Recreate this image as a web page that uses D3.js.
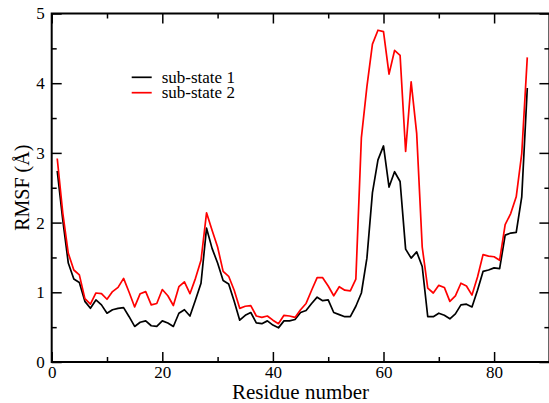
<!DOCTYPE html>
<html>
<head>
<meta charset="utf-8">
<script src="https://cdn.jsdelivr.net/npm/d3@7"></script>
<style>
  body { margin: 0; background: #fff; }
  svg text { font-family: "Liberation Serif", "DejaVu Serif", serif; }
</style>
</head>
<body>
<div id="chart"></div>
<script>
// RMSF per residue
const residues = d3.range(1, 87);
const subState1 = [
  2.74, 2.04, 1.42, 1.19, 1.14, 0.87, 0.77, 0.89, 0.82, 0.70,
  0.75, 0.77, 0.78, 0.65, 0.51, 0.57, 0.59, 0.52, 0.51, 0.59,
  0.56, 0.51, 0.70, 0.75, 0.66, 0.89, 1.13, 1.92, 1.63, 1.42,
  1.17, 1.12, 0.87, 0.60, 0.67, 0.71, 0.56, 0.55, 0.59, 0.53,
  0.49, 0.59, 0.59, 0.61, 0.71, 0.74, 0.84, 0.93, 0.88, 0.89,
  0.71, 0.68, 0.65, 0.65, 0.80, 0.99, 1.49, 2.43, 2.90, 3.10,
  2.51, 2.73, 2.59, 1.62, 1.49, 1.58, 1.37, 0.65, 0.65, 0.70,
  0.67, 0.62, 0.69, 0.82, 0.83, 0.79, 1.03, 1.30, 1.32, 1.35,
  1.34, 1.82, 1.85, 1.86, 2.37, 3.93
];
const subState2 = [
  2.92, 2.14, 1.56, 1.32, 1.25, 0.91, 0.83, 0.99, 0.98, 0.90,
  1.01, 1.07, 1.20, 1.00, 0.79, 0.98, 1.01, 0.82, 0.84, 1.04,
  0.95, 0.81, 1.08, 1.15, 0.98, 1.20, 1.46, 2.14, 1.89, 1.65,
  1.30, 1.23, 1.03, 0.77, 0.80, 0.81, 0.66, 0.64, 0.66, 0.60,
  0.55, 0.67, 0.66, 0.64, 0.75, 0.84, 1.03, 1.21, 1.21, 1.09,
  0.95, 1.08, 1.03, 1.02, 1.19, 3.22, 3.95, 4.56, 4.76, 4.74,
  4.13, 4.47, 4.40, 3.02, 4.02, 3.28, 1.65, 1.06, 0.99, 1.10,
  1.07, 0.87, 0.95, 1.13, 1.09, 0.96, 1.22, 1.54, 1.52, 1.51,
  1.46, 1.97, 2.13, 2.37, 2.99, 4.37
];
const seriesNames = ["sub-state 1", "sub-state 2"];
const seriesColors = ["#000000", "#ff0000"];
const xMajorTicks = [0, 20, 40, 60, 80];
const xMinorTicks = [10, 30, 50, 70, 90];
const yMajorTicks = [0, 1, 2, 3, 4, 5];
const yMinorTicks = [0.5, 1.5, 2.5, 3.5, 4.5];

const width = 549;
const height = 403;
const margin = { top: 13.5, right: 0, bottom: 41, left: 51.7 };

const svg = d3.select("#chart")
    .append("svg")
    .attr("width", width)
    .attr("height", height);

const x = d3.scaleLinear()
    .domain([0, 90])
    .range([margin.left, 549.4]);

const y = d3.scaleLinear()
    .domain([0, 5])
    .range([height - margin.bottom, margin.top]);

const line = d3.line()
    .x((d, i) => x(residues[i]))
    .y(d => y(d));

// data lines
[subState1, subState2].forEach((vals, k) => {
    svg.append("path")
        .datum(vals)
        .attr("fill", "none")
        .attr("stroke", seriesColors[k])
        .attr("stroke-width", 1.7)
        .attr("stroke-linejoin", "round")
        .attr("d", line);
});

// axes, ticks pointing inward
function styleAxis(g) {
    g.select(".domain").remove();
    g.selectAll(".tick line").attr("stroke", "#000").attr("stroke-width", 1.5);
    g.selectAll(".tick text")
        .attr("fill", "#000")
        .style("font-size", "17px")
        .style("font-family", "'Liberation Serif', serif");
}

const yBottom = y(0);
const xRight = x(90);

svg.append("g")
    .attr("transform", `translate(0,${yBottom})`)
    .call(d3.axisBottom(x).tickValues(xMajorTicks).tickSize(-10).tickPadding(4).tickFormat(d3.format("d")))
    .call(styleAxis);
svg.append("g")
    .attr("transform", `translate(0,${yBottom})`)
    .call(d3.axisBottom(x).tickValues(xMinorTicks).tickSize(-5).tickFormat(""))
    .call(styleAxis);
svg.append("g")
    .attr("transform", `translate(0,${margin.top})`)
    .call(d3.axisTop(x).tickValues(xMajorTicks).tickSize(-10).tickFormat(""))
    .call(styleAxis);
svg.append("g")
    .attr("transform", `translate(0,${margin.top})`)
    .call(d3.axisTop(x).tickValues(xMinorTicks).tickSize(-5).tickFormat(""))
    .call(styleAxis);

svg.append("g")
    .attr("transform", `translate(${margin.left},0)`)
    .call(d3.axisLeft(y).tickValues(yMajorTicks).tickSize(-10).tickPadding(7).tickFormat(d3.format("d")))
    .call(styleAxis);
svg.append("g")
    .attr("transform", `translate(${margin.left},0)`)
    .call(d3.axisLeft(y).tickValues(yMinorTicks).tickSize(-5).tickFormat(""))
    .call(styleAxis);
svg.append("g")
    .attr("transform", `translate(${xRight},0)`)
    .call(d3.axisRight(y).tickValues(yMajorTicks).tickSize(-10).tickFormat(""))
    .call(styleAxis);
svg.append("g")
    .attr("transform", `translate(${xRight},0)`)
    .call(d3.axisRight(y).tickValues(yMinorTicks).tickSize(-5).tickFormat(""))
    .call(styleAxis);

// frame
svg.append("rect")
    .attr("x", margin.left)
    .attr("y", margin.top)
    .attr("width", xRight - margin.left)
    .attr("height", yBottom - margin.top)
    .attr("fill", "none")
    .attr("stroke", "#000")
    .attr("stroke-width", 2);

// axis titles
svg.append("text")
    .attr("x", (margin.left + xRight) / 2)
    .attr("y", 399)
    .attr("text-anchor", "middle")
    .style("font-size", "21px")
    .text("Residue number");

svg.append("text")
    .attr("transform", `translate(29,${(margin.top + yBottom) / 2}) rotate(-90)`)
    .attr("text-anchor", "middle")
    .style("font-size", "20px")
    .text("RMSF (Å)");

// legend
const legend = svg.append("g").attr("transform", "translate(131.7,77.3)");
seriesNames.forEach((name, k) => {
    const row = legend.append("g").attr("transform", `translate(0,${k * 15.4})`);
    row.append("line")
        .attr("x1", 0).attr("x2", 20)
        .attr("stroke", seriesColors[k])
        .attr("stroke-width", 1.7);
    row.append("text")
        .attr("x", 30)
        .attr("y", 5.5)
        .style("font-size", "17px")
        .text(name);
});
</script>
</body>
</html>
